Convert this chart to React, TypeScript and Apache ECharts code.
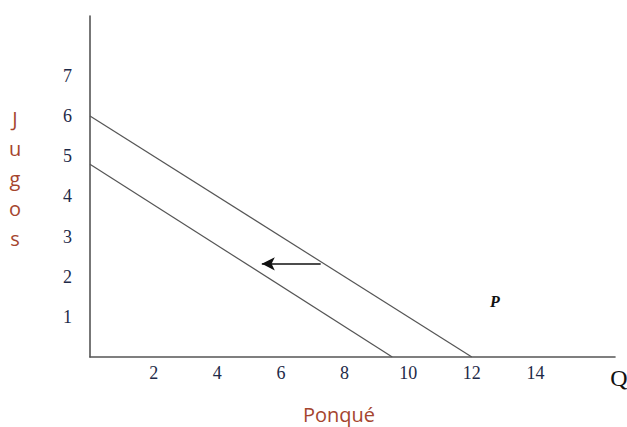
import React, { useEffect, useRef } from "react";
import * as echarts from "echarts";

const xTicks = [2, 4, 6, 8, 10, 12, 14];
const yTicks = [1, 2, 3, 4, 5, 6, 7];
const budgetHigh: [number, number][] = [[0, 6], [12, 0]];
const budgetLow: [number, number][] = [[0, 4.8], [9.5, 0]];
const arrowFrom: [number, number] = [7.25, 2.32];
const arrowTo: [number, number] = [5.4, 2.32];
const xName = "Ponqué";
const yName = "J\nu\ng\no\ns";
const endLabel = "Q";
const pointLabel = "P";

export default function App() {
  const ref = useRef<HTMLDivElement>(null);
  useEffect(() => {
    if (!ref.current) return;
    const chart = echarts.init(ref.current, null, { renderer: "svg" });
    const brown = "#a5452e";
    chart.setOption({
      animation: false,
      backgroundColor: "#ffffff",
      grid: { left: 90, right: 12, top: 16, bottom: 70 },
      xAxis: {
        type: "value",
        min: 0,
        max: 16.5,
        interval: 2,
        axisLine: { show: true, lineStyle: { color: "#555", width: 1.6 } },
        axisTick: { show: false },
        splitLine: { show: false },
        axisLabel: {
          margin: 7,
          color: "#1e2a48",
          fontFamily: "Liberation Serif",
          fontSize: 18,
          formatter: (v: number) => (xTicks.includes(v) ? String(v) : ""),
        },
      },
      yAxis: {
        type: "value",
        min: 0,
        max: 8.49,
        interval: 1,
        axisLine: { show: true, lineStyle: { color: "#555", width: 1.6 } },
        axisTick: { show: false },
        splitLine: { show: false },
        axisLabel: {
          margin: 18,
          color: "#1e2a48",
          fontFamily: "Liberation Serif",
          fontSize: 18,
          formatter: (v: number) => (yTicks.includes(v) ? String(v) : ""),
        },
      },
      series: [
        {
          type: "line",
          data: budgetHigh,
          symbol: "none",
          lineStyle: { color: "#555", width: 1.2 },
          markLine: {
            silent: true,
            symbol: ["none", "arrow"],
            symbolSize: [10, 13],
            label: { show: false },
            lineStyle: { color: "#111", width: 1.5, type: "solid" },
            data: [[{ coord: arrowFrom }, { coord: arrowTo }]],
          },
        },
        {
          type: "line",
          data: budgetLow,
          symbol: "none",
          lineStyle: { color: "#555", width: 1.2 },
        },
      ],
      graphic: [
        {
          type: "text",
          x: 15,
          y: 178,
          style: {
            text: yName,
            fill: brown,
            fontFamily: "Open Sans",
            fontSize: 20,
            lineHeight: 30,
            align: "center",
            verticalAlign: "middle",
          },
        },
        {
          type: "text",
          x: 339,
          y: 414,
          style: {
            text: xName,
            fill: brown,
            fontFamily: "Open Sans",
            fontSize: 20,
            align: "center",
            verticalAlign: "middle",
          },
        },
        {
          type: "text",
          x: 619,
          y: 378,
          style: {
            text: endLabel,
            fill: "#111",
            fontFamily: "Liberation Serif",
            fontSize: 24,
            align: "center",
            verticalAlign: "middle",
          },
        },
        {
          type: "text",
          x: 495,
          y: 301,
          style: {
            text: pointLabel,
            fill: "#111",
            fontFamily: "Liberation Serif",
            fontStyle: "italic",
            fontWeight: "bold",
            fontSize: 16,
            align: "center",
            verticalAlign: "middle",
          },
        },
      ],
    });
    return () => chart.dispose();
  }, []);
  return <div ref={ref} style={{ width: 627, height: 427, position: "fixed", left: 0, top: 0 }} />;
}
